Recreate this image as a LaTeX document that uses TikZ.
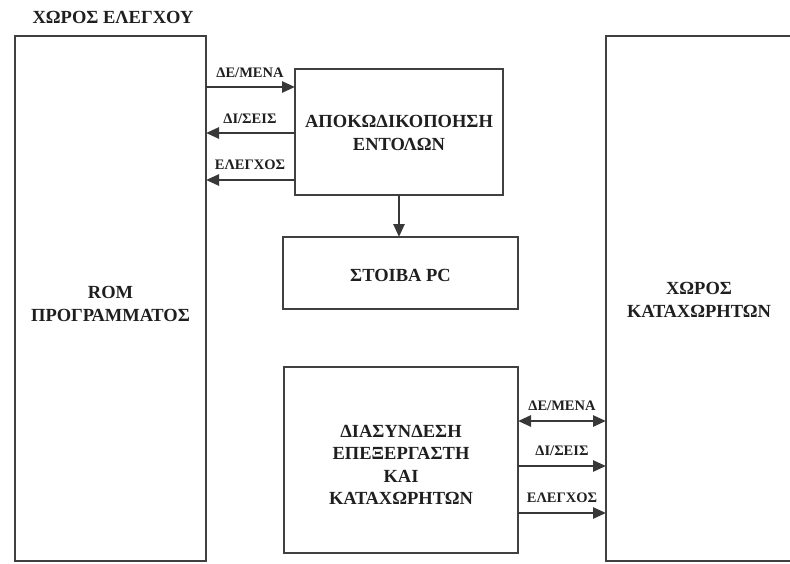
\documentclass[tikz,border=0pt]{standalone}
\usepackage{fontspec}
\setmainfont{Liberation Serif}
\usetikzlibrary{arrows.meta}
\begin{document}
\begin{tikzpicture}[x=1pt,y=-1pt,
  boxline/.style={draw=black!75,line width=2.6pt},
  maintxt/.style={font=\bfseries\fontsize{18.5}{22.5}\selectfont,align=center,text=black!88,inner sep=0pt},
  lbl/.style={font=\bfseries\fontsize{14.5}{16}\selectfont,text=black!88,inner sep=0pt},
  arr/.style={draw=black!78,line width=2.6pt,-{Triangle[length=13pt,width=11pt]}},
  darr/.style={draw=black!78,line width=2.6pt,{Triangle[length=13pt,width=11pt]}-{Triangle[length=13pt,width=11pt]}}]
\useasboundingbox (0,0) rectangle (790,563);
% boxes
\draw[boxline] (15,36) rectangle (206,561);
\coordinate (romE) at (206,0);
\draw[boxline] (295,69) rectangle (503,195);
\coordinate (decW) at (295,0);
\coordinate (decS) at (399,195);
\draw[boxline] (283,237) rectangle (518,309);
\coordinate (stkN) at (399,237);
\draw[boxline] (284,367) rectangle (518,553);
\coordinate (intE) at (518,0);
\draw[boxline] (795,36) -- (606,36) -- (606,561) -- (795,561);
\coordinate (regW) at (606,0);
% texts
\node[maintxt] (title) at (113,17) {ΧΩΡΟΣ ΕΛΕΓΧΟΥ};
\node[maintxt] (romt) at (110.5,304) {ROM\\ΠΡΟΓΡΑΜΜΑΤΟΣ};
\node[maintxt] (dect) at (399,133) {ΑΠΟΚΩΔΙΚΟΠΟΗΣΗ\\ΕΝΤΟΛΩΝ};
\node[maintxt] (stkt) at (400.5,275) {ΣΤΟΙΒΑ PC};
\node[maintxt] (intt) at (401,465) {ΔΙΑΣΥΝΔΕΣΗ\\ΕΠΕΞΕΡΓΑΣΤΗ\\ΚΑΙ\\ΚΑΤΑΧΩΡΗΤΩΝ};
\node[maintxt] (regt) at (699,300) {ΧΩΡΟΣ\\ΚΑΤΑΧΩΡΗΤΩΝ};
% left arrows
\coordinate (y1) at (0,87);
\coordinate (y2) at (0,133);
\coordinate (y3) at (0,180);
\draw[arr] (y1 -| romE) -- (y1 -| decW);
\draw[arr] (y2 -| decW) -- (y2 -| romE);
\draw[arr] (y3 -| decW) -- (y3 -| romE);
\node[lbl] (l1) at (250,73) {ΔΕ/ΜΕΝΑ};
\node[lbl] (l2) at (250,119) {ΔΙ/ΣΕΙΣ};
\node[lbl] (l3) at (250,165) {ΕΛΕΓΧΟΣ};
% down arrow
\draw[arr] (decS) -- (stkN);
% right arrows
\coordinate (y4) at (0,421);
\coordinate (y5) at (0,466);
\coordinate (y6) at (0,513);
\draw[darr] (y4 -| intE) -- (y4 -| regW);
\draw[arr] (y5 -| intE) -- (y5 -| regW);
\draw[arr] (y6 -| intE) -- (y6 -| regW);
\node[lbl] (r1) at (562,406) {ΔΕ/ΜΕΝΑ};
\node[lbl] (r2) at (562,451) {ΔΙ/ΣΕΙΣ};
\node[lbl] (r3) at (562,498) {ΕΛΕΓΧΟΣ};
\end{tikzpicture}
\end{document}
